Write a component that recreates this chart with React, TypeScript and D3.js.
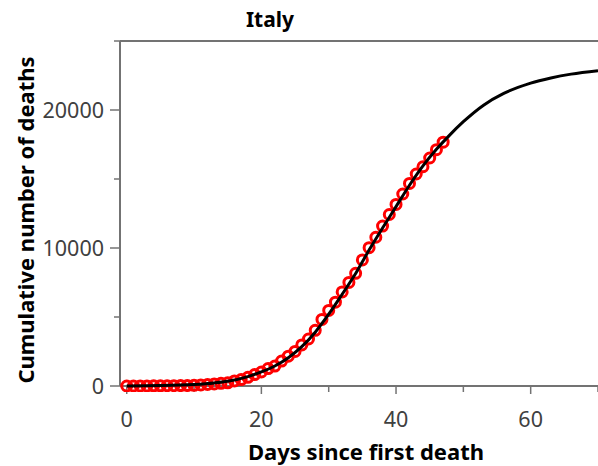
import React from "react";
import * as d3 from "d3";

const title = "Italy";
const xLabel = "Days since first death";
const yLabel = "Cumulative number of deaths";

// observed cumulative deaths, day 0..47
const days = d3.range(0, 48);
const deaths = [
  1, 2, 3, 7, 10, 12, 17, 21, 29, 34, 52, 79, 107, 148, 197, 233, 366, 463, 631, 827,
  1016, 1266, 1441, 1809, 2158, 2503, 2978, 3405, 4032, 4825, 5476, 6077, 6820, 7503,
  8165, 9134, 10023, 10779, 11591, 12428, 13155, 13915, 14681, 15362, 15887, 16523,
  17127, 17669,
];

// fitted curve
const fitDays = [0, 5, 10, 13, 15, 18, 20, 22, 24, 26, 28, 30, 32, 34, 36, 38, 40, 42, 44, 46, 48, 50, 53, 56, 60, 63, 66, 70];
const fitValues = [5, 30, 110, 220, 340, 680, 1020, 1450, 2050, 2850, 3900, 5200, 6650, 8150, 9850, 11450, 13000, 14550, 15950, 17150, 18200, 19150, 20350, 21200, 21950, 22320, 22600, 22850];

const xTicks = [0, 20, 40, 60];
const xMinor = [10, 30, 50, 70];
const yTicks = [0, 10000, 20000];
const yMinor = [5000, 15000, 25000];

export default function App() {
  const W = 598;
  const H = 466;
  const x = d3.scaleLinear().domain([-1, 70]).range([120, 598]);
  const y = d3.scaleLinear().domain([0, 25000]).range([386, 41]);
  const line = d3
    .line<number>()
    .x((_, i) => x(fitDays[i]))
    .y((d) => y(d))
    .curve(d3.curveMonotoneX);
  const axisColor = "#737373";
  const font = "'Noto Sans', 'Open Sans', sans-serif";
  return (
    <svg width={W} height={H} style={{ position: "absolute", left: 0, top: 0 }} fontFamily={font}>
      <rect width={W} height={H} fill="white" />
      <defs>
        <clipPath id="plot">
          <rect x={110} y={30} width={488} height={362} />
        </clipPath>
      </defs>
      {/* spines */}
      <line x1={120} x2={120} y1={41} y2={386} stroke={axisColor} strokeWidth={2} />
      <line x1={120} x2={598} y1={386} y2={386} stroke={axisColor} strokeWidth={2} />
      <line x1={120} x2={598} y1={41} y2={41} stroke={axisColor} strokeWidth={2} />
      {/* y ticks */}
      {yTicks.map((t) => (
        <g key={"y" + t}>
          <line x1={110} x2={120} y1={y(t)} y2={y(t)} stroke={axisColor} strokeWidth={1.5} />
          <text x={104} y={y(t)} dy="0.36em" textAnchor="end" fontSize={21.5} fill="#404040">
            {t}
          </text>
        </g>
      ))}
      {yMinor.map((t) => (
        <line key={"ym" + t} x1={114} x2={120} y1={y(t)} y2={y(t)} stroke={axisColor} strokeWidth={1.5} />
      ))}
      {/* x ticks */}
      {xTicks.map((t) => (
        <g key={"x" + t}>
          <line x1={x(t)} x2={x(t)} y1={386} y2={394} stroke={axisColor} strokeWidth={1.5} />
          <text x={x(t)} y={427} textAnchor="middle" fontSize={21.5} fill="#404040">
            {t}
          </text>
        </g>
      ))}
      {xMinor.map((t) => (
        <line key={"xm" + t} x1={x(t)} x2={x(t)} y1={386} y2={392} stroke={axisColor} strokeWidth={1.5} />
      ))}
      <g clipPath="url(#plot)">
        {days.map((d, i) => (
          <circle key={i} cx={x(d)} cy={y(deaths[i])} r={5} fill="none" stroke="#ff0000" strokeWidth={3} />
        ))}
        <path d={line(fitValues) || ""} fill="none" stroke="black" strokeWidth={3} />
      </g>
      <text x={270} y={27} textAnchor="middle" fontSize={21} fontWeight="bold" fill="black">
        {title}
      </text>
      <text x={366} y={460} textAnchor="middle" fontSize={22} fontWeight="bold" fill="black">
        {xLabel}
      </text>
      <text
        transform={`translate(34,220) rotate(-90)`}
        textAnchor="middle"
        fontSize={22}
        fontWeight="bold"
        fill="black"
      >
        {yLabel}
      </text>
    </svg>
  );
}
